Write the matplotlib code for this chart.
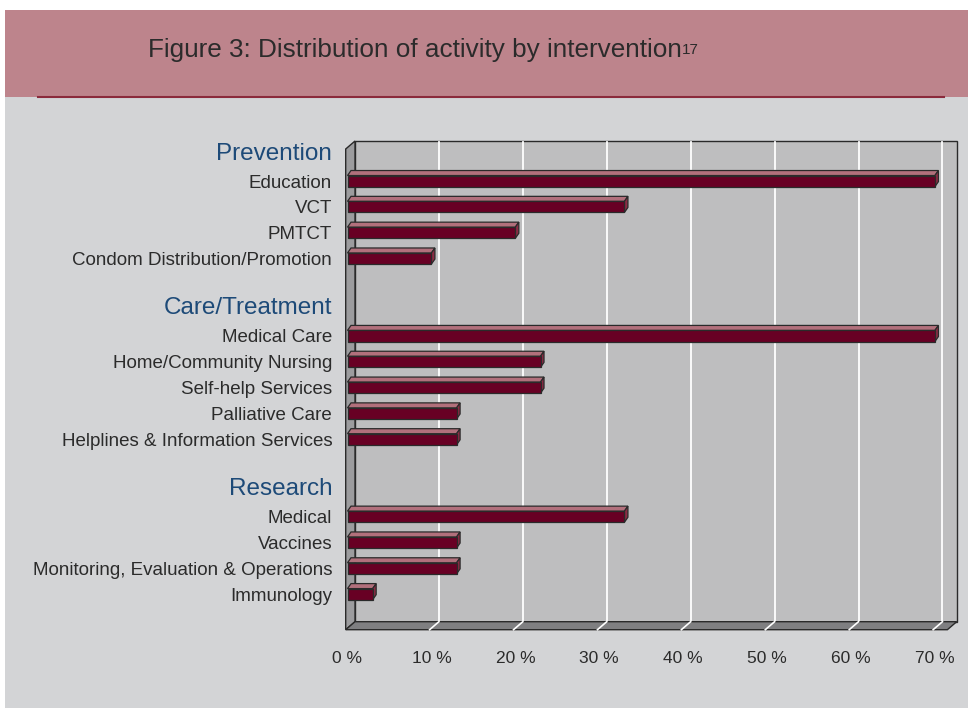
"""Figure 3: distribution of activity by intervention (3-D style horizontal bars)."""
import matplotlib
matplotlib.use("Agg")
import matplotlib.pyplot as plt
from matplotlib.patches import Polygon, Rectangle

plt.rcParams["font.family"] = ["Liberation Sans", "DejaVu Sans"]

# ---- data -------------------------------------------------------------
groups = ["Prevention", "Care/Treatment", "Research"]
prevention_labels = ["Education", "VCT", "PMTCT", "Condom Distribution/Promotion"]
prevention_values = [70, 33, 20, 10]
care_labels = ["Medical Care", "Home/Community Nursing", "Self-help Services",
               "Palliative Care", "Helplines & Information Services"]
care_values = [70, 23, 23, 13, 13]
research_labels = ["Medical", "Vaccines", "Monitoring, Evaluation & Operations",
                   "Immunology"]
research_values = [33, 13, 13, 3]
x_ticks = [0, 10, 20, 30, 40, 50, 60, 70]
x_tick_labels = [f"{t} %" for t in x_ticks]

# ---- layout (pixels) --------------------------------------------------
FIG_W, FIG_H = 968, 708
AX_L, AX_R, AX_T, AX_B = 347.5, 949.2, 147.0, 627.7   # plane of the bar faces
X_MAX = 71.7
Y_TOP, Y_BOT = -0.32, 18.3
BACK = (7.5, 6.0)      # back wall offset from bar plane (right, up)
FRONT = (-1.8, -2.0)   # front edge offset
BAR_D = (3.5, 5.0)     # bar depth
BAR_H = 0.43

BG = "#d3d4d6"
BAND = "#bd848c"
WALL = "#bebebf"
SIDE = "#9c9c9e"
FLOOR = "#7f7f81"
EDGE = "#2a2a2a"
BAR_FRONT = "#680024"
BAR_TOP = "#b2707c"
BAR_CAP = "#8c2c44"
TEXT = "#2b2b2b"
HEAD = "#1d4a78"

# build rows: heading, items, blank
labels, values, heads = [], [], []
for gi, (g, labs, vals) in enumerate(zip(
        groups, [prevention_labels, care_labels, research_labels],
        [prevention_values, care_values, research_values])):
    heads.append(len(labels))
    labels.append("")
    values.append(None)
    labels += labs
    values += vals
    if gi < len(groups) - 1:
        labels.append("")
        values.append(None)

fig = plt.figure(figsize=(FIG_W / 100, FIG_H / 100), dpi=100)
fig.patch.set_facecolor("white")


def fx(px):
    return px / FIG_W


def fy(py):
    return 1 - py / FIG_H


# page background, title band and rule
fig.add_artist(Rectangle((fx(5), 0), 1 - fx(5), fy(97), transform=fig.transFigure,
                         facecolor=BG, edgecolor="none", zorder=0))
fig.add_artist(Rectangle((fx(5), fy(97)), 1 - fx(5), fy(10) - fy(97),
                         transform=fig.transFigure, facecolor=BAND,
                         edgecolor="none", zorder=0))
fig.add_artist(plt.Line2D([fx(38), fx(944)], [fy(97), fy(97)], transform=fig.transFigure,
                          color="#8b2a3c", lw=1.5, zorder=1))

ax = fig.add_axes([fx(AX_L), fy(AX_B), fx(AX_R) - fx(AX_L), fy(AX_T) - fy(AX_B)])
ax.set_xlim(0, X_MAX)
ax.set_ylim(Y_BOT, Y_TOP)
ax.patch.set_visible(False)
for s in ax.spines.values():
    s.set_visible(False)

title = fig.text(fx(148), fy(50), "Figure 3: Distribution of activity by intervention",
                 fontsize=18.8, color=TEXT, va="center", ha="left")
ax.annotate("17", xy=(1, 0.8), xycoords=title, fontsize=11, color=TEXT,
            va="top", ha="left", annotation_clip=False)

sx = (AX_R - AX_L) / X_MAX
sy = (AX_B - AX_T) / (Y_BOT - Y_TOP)


def sh(x, y, d):
    return (x + d[0] / sx, y - d[1] / sy)


def poly(pts, fc, z, lw=1.0):
    ax.add_patch(Polygon(pts, closed=True, facecolor=fc, edgecolor=EDGE, lw=lw,
                         zorder=z, clip_on=False, joinstyle="miter"))


# walls
poly([sh(0, Y_TOP, BACK), sh(X_MAX, Y_TOP, BACK), sh(X_MAX, Y_BOT, BACK),
      sh(0, Y_BOT, BACK)], WALL, 0)
poly([sh(0, Y_TOP, BACK), sh(0, Y_BOT, BACK), sh(0, Y_BOT, FRONT),
      sh(0, Y_TOP, FRONT)], SIDE, 1)
poly([sh(0, Y_BOT, BACK), sh(X_MAX, Y_BOT, BACK), sh(X_MAX, Y_BOT, FRONT),
      sh(0, Y_BOT, FRONT)], FLOOR, 1)

# gridlines on back wall and floor
for t in x_ticks[1:]:
    xb, yt = sh(t, Y_TOP, BACK)
    _, yb = sh(t, Y_BOT, BACK)
    ax.plot([xb, xb], [yt + 0.04, yb - 0.02], color="white", lw=1.3, zorder=0.5,
            clip_on=False)
    xf, yf = sh(t, Y_BOT, FRONT)
    ax.plot([xb, xf], [yb, yf], color="white", lw=1.2, zorder=1.5, clip_on=False)

# bars
ys = [i for i, v in enumerate(values) if v is not None]
vs = [v for v in values if v is not None]
ax.barh(ys, vs, height=BAR_H, color=BAR_FRONT, edgecolor=EDGE, lw=0.9, zorder=4,
        clip_on=False)
for y, v in zip(ys, vs):
    top = y - BAR_H / 2
    bot = y + BAR_H / 2
    poly([(0, top), (v, top), sh(v, top, BAR_D), sh(0, top, BAR_D)], BAR_TOP, 3, 0.9)
    poly([(v, top), (v, bot), sh(v, bot, BAR_D), sh(v, top, BAR_D)], BAR_CAP, 3, 0.9)

# axis labels
ax.set_yticks(range(len(labels)))
ax.set_yticklabels(labels)
ax.tick_params(axis="y", length=0, pad=11, labelsize=13.5, labelcolor=TEXT)
for g, slot in zip(groups, heads):
    ax.annotate(g, xy=(0, slot), xycoords="data", xytext=(-11, 1.2),
                textcoords="offset points", ha="right", va="center",
                fontsize=17.5, color=HEAD, annotation_clip=False)
ax.set_xticks(x_ticks)
ax.set_xticklabels(x_tick_labels)
ax.tick_params(axis="x", length=0, pad=17, labelsize=12.5, labelcolor=TEXT)
for lab in ax.get_xticklabels():
    lab.set_x(lab.get_position()[0])

fig.savefig("out.png", dpi=100)
